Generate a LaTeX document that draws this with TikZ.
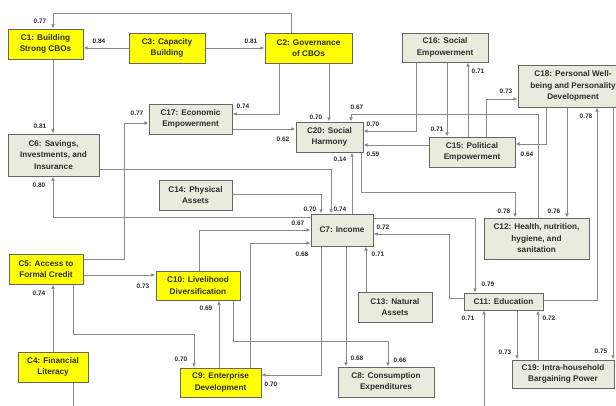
\documentclass[tikz,border=0pt]{standalone}
\usepackage{fontspec}
\setmainfont{Liberation Sans}
\usetikzlibrary{arrows.meta}
\definecolor{boxyellow}{HTML}{FFFF00}
\definecolor{boxgray}{HTML}{E9ECDD}
\definecolor{edgegray}{HTML}{666666}
\definecolor{linegray}{HTML}{8A8A8A}
\definecolor{txt}{HTML}{2E2E2E}
\tikzset{
  concept/.style={draw=edgegray, line width=1pt, align=center, text=txt,
    font=\fontsize{8.2}{11.5}\selectfont\bfseries, inner sep=0pt},
  ybox/.style={concept, fill=boxyellow},
  gbox/.style={concept, fill=boxgray},
  conn/.style={draw=linegray, line width=1pt, -{Latex[length=4.2pt,width=3.8pt]}},
  link/.style={draw=linegray, line width=1pt},
  wt/.style={font=\fontsize{6.5}{7.5}\selectfont\bfseries, text=txt, inner sep=0pt},
}
\begin{document}
\begin{tikzpicture}[x=1pt,y=-1pt]
\clip (0,0) rectangle (616,405);
\fill[white] (0,0) rectangle (616,405);

% concepts
\node[ybox, minimum width=75pt, minimum height=30pt] (c1) at (45.5,44) {C1: Building\\Strong CBOs};
\node[ybox, minimum width=76pt, minimum height=30pt] (c3) at (167,48) {C3: Capacity\\Building};
\node[ybox, minimum width=87pt, minimum height=30pt] (c2) at (308.5,48) {C2: Governance\\of CBOs};
\node[gbox, minimum width=86pt, minimum height=29pt] (c16) at (445,47.5) {C16: Social\\Empowerment};
\node[gbox, minimum width=110pt, minimum height=42pt] (c18) at (573,86) {C18: Personal Well-\\being and Personality\\Development};
\node[gbox, minimum width=83pt, minimum height=30pt] (c17) at (190.5,119) {C17: Economic\\Empowerment};
\node[gbox, minimum width=67pt, minimum height=30pt] (c20) at (329.5,137) {C20: Social\\Harmony};
\node[gbox, minimum width=86pt, minimum height=30pt] (c15) at (472,152) {C15: Political\\Empowerment};
\node[gbox, minimum width=91pt, minimum height=42pt] (c6) at (53.5,155) {C6: Savings,\\Investments, and\\Insurance};
\node[gbox, minimum width=73pt, minimum height=30pt] (c14) at (195.5,195) {C14: Physical\\Assets};
\node[gbox, minimum width=62pt, minimum height=32pt] (c7) at (342,230) {C7: Income};
\node[gbox, minimum width=105pt, minimum height=41pt] (c12) at (536.5,238.5) {C12: Health, nutrition,\\hygiene, and\\sanitation};
\node[ybox, minimum width=74pt, minimum height=30pt] (c5) at (46,269) {C5: Access to\\Formal Credit};
\node[ybox, minimum width=84pt, minimum height=29pt] (c10) at (198,285.5) {C10: Livelihood\\Diversification};
\node[gbox, minimum width=74pt, minimum height=30pt] (c13) at (395,307) {C13: Natural\\Assets};
\node[gbox, minimum width=79pt, minimum height=17pt] (c11) at (503.5,301.5) {C11: Education};
\node[ybox, minimum width=70pt, minimum height=30pt] (c4) at (53,367) {C4: Financial\\Literacy};
\node[ybox, minimum width=81pt, minimum height=29pt] (c9) at (220.5,382.5) {C9: Enterprise\\Development};
\node[gbox, minimum width=96pt, minimum height=30pt] (c8) at (386,382) {C8: Consumption\\Expenditures};
\node[gbox, minimum width=102pt, minimum height=28pt] (c19) at (563,374) {C19: Intra-household\\Bargaining Power};

% loose ends running off the lower edge
\coordinate (c4out) at (73,406);
\coordinate (c11in) at (484,406);

% links
\draw[conn] (c2.north -| 291,0) |- (53,13) -- (c1.north -| 53,0);
\draw[conn] (c3.west) -- (c1.east |- c3.west);
\draw[conn] (c3.east) -- (c2.west |- c3.east);
\draw[conn] (c1.south -| 53,0) -- (c6.north -| 53,0);
\draw[conn] (c2.south -| 279,0) |- (c17.east |- 0,114);
\draw[conn] (c2.south -| 329,0) -- (c20.north -| 329,0);
\draw[conn] (c17.east |- 0,129) -- (c20.west |- 0,129);
\draw[conn] (c5.east |- 0,259) -| (124,123) -- (c17.west |- 0,123);
\draw[conn] (c6.east |- 0,169) -| (c7.north -| 331,0);
\draw[conn] (c14.east |- 0,194) -| (c7.north -| 321,0);
\draw[conn] (c7.west |- 0,217) -| (c6.south -| 53,0);
\draw[conn] (c7.north -| 352,0) -- (c20.south -| 352,0);
\draw[conn] (c10.north -| 199,0) |- (c7.west |- 0,230);
\draw[conn] (c9.north -| 250,0) |- (c7.west |- 0,243);
\draw[conn] (c7.south -| 321,0) |- (c9.east |- 0,375);
\draw[conn] (c7.south -| 346,0) -- (c8.north -| 346,0);
\draw[conn] (c13.north -| 366,0) -- (c7.south -| 366,0);
\draw[conn] (c10.south -| 233,0) |- (388,341) -- (c8.north -| 388,0);
\draw[conn] (c9.north -| 219,0) -- (c10.south -| 219,0);
\draw[conn] (c5.east |- 0,275) -- (c10.west |- 0,275);
\draw[conn] (c5.south -| 73,0) |- (194,334) -- (c9.north -| 194,0);
\draw[conn] (c4.north -| 53,0) -- (c5.south -| 53,0);
\draw[link] (c4.south -| 73,0) -- (c4out);
\draw[conn] (c11in) -- (c11.south -| 484,0);
\draw[conn] (c11.south -| 517,0) -- (c19.north -| 517,0);
\draw[conn] (c19.north -| 538,0) -- (c11.south -| 538,0);
\draw[conn] (c18.south -| 613,0) -- (c19.north -| 613,0);
\draw[conn] (c11.east |- 0,300) -| (c18.south -| 597,0);
\draw[conn] (c11.west |- 0,298) -| (449,234) -- (c7.east |- 0,234);
\draw[conn] (c7.east |- 0,218) -| (c11.north -| 475,0);
\draw[conn] (c20.south -| 361,0) |- (515,192) -- (c12.north -| 515,0);
\draw[conn] (c15.west |- 0,145) -- (c20.east |- 0,145);
\draw[conn] (c16.south -| 416,0) |- (c20.east |- 0,131);
\draw[conn] (c12.north -| 538,0) |- (351,114) -- (c20.north -| 351,0);
\draw[conn] (c16.south -| 447,0) -- (c15.north -| 447,0);
\draw[conn] (c15.north -| 468,0) -- (c16.south -| 468,0);
\draw[conn] (c15.north -| 486,0) |- (c18.west |- 0,99);
\draw[conn] (c18.south -| 546,0) |- (c15.east |- 0,144);
\draw[conn] (c18.south -| 567,0) -- (c12.north -| 567,0);

% path coefficients
\node[wt] (w1) at (40,21) {0.77};
\node[wt] (w2) at (99,41) {0.84};
\node[wt] (w3) at (251,41) {0.81};
\node[wt] (w4) at (40,126) {0.81};
\node[wt] (w5) at (137,113) {0.77};
\node[wt] (w6) at (243,106) {0.74};
\node[wt] (w7) at (316,117) {0.70};
\node[wt] (w8) at (357,107) {0.67};
\node[wt] (w9) at (373,124) {0.70};
\node[wt] (w10) at (283,139) {0.62};
\node[wt] (w11) at (373,154) {0.59};
\node[wt] (w12) at (340,159) {0.14};
\node[wt] (w13) at (437,129) {0.71};
\node[wt] (w14) at (478,71) {0.71};
\node[wt] (w15) at (506,91) {0.73};
\node[wt] (w16) at (586,116) {0.78};
\node[wt] (w17) at (527,154) {0.64};
\node[wt] (w18) at (504,211) {0.78};
\node[wt] (w19) at (554,211) {0.76};
\node[wt] (w20) at (39,185) {0.80};
\node[wt] (w21) at (310,209) {0.70};
\node[wt] (w22) at (340,209) {0.74};
\node[wt] (w23) at (298,223) {0.67};
\node[wt] (w24) at (383,227) {0.72};
\node[wt] (w25) at (302,254) {0.68};
\node[wt] (w26) at (378,254) {0.71};
\node[wt] (w27) at (488,284) {0.79};
\node[wt] (w28) at (143,286) {0.73};
\node[wt] (w29) at (39,293) {0.74};
\node[wt] (w30) at (206,308) {0.69};
\node[wt] (w31) at (181,359) {0.70};
\node[wt] (w32) at (271,384) {0.70};
\node[wt] (w33) at (357,358) {0.68};
\node[wt] (w34) at (400,360) {0.66};
\node[wt] (w35) at (468,318) {0.71};
\node[wt] (w36) at (549,318) {0.72};
\node[wt] (w37) at (505,352) {0.73};
\node[wt] (w38) at (601,351) {0.75};
\end{tikzpicture}
\end{document}
